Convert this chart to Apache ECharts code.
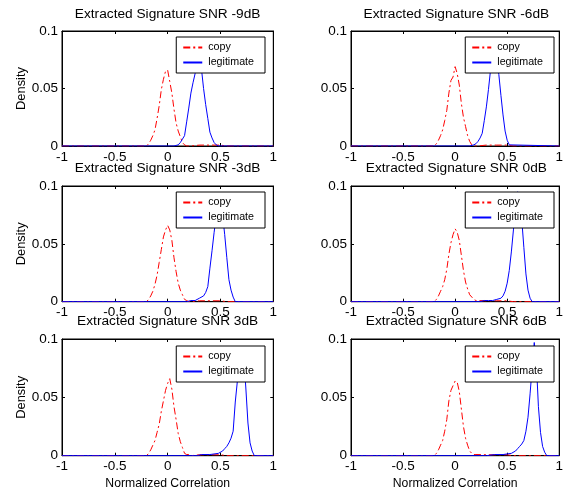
<!DOCTYPE html>
<html>
<head>
<meta charset="utf-8">
<script src="https://cdn.jsdelivr.net/npm/echarts@6/dist/echarts.min.js"></script>
<style>html,body{margin:0;padding:0;background:#fff}#c{width:566px;height:496px}</style>
</head>
<body>
<div id="c"></div>
<script>
// ---- data ----
const titles = ['Extracted Signature SNR -9dB','Extracted Signature SNR -6dB','Extracted Signature SNR -3dB','Extracted Signature SNR 0dB','Extracted Signature SNR 3dB','Extracted Signature SNR 6dB'];
const xTicks = [-1, -0.5, 0, 0.5, 1];
const yTicks = [0, 0.05, 0.1];

const copyX = [-1,-0.22,-0.2,-0.18,-0.16,-0.14,-0.12,-0.1,-0.08,-0.06,-0.04,-0.02,0,0.02,0.04,0.06,0.08,0.1,0.12,0.14,0.16,0.18,0.2,0.22,0.3,0.4,0.5,0.56,1];
const copyM9 = [0,0,0,0.002,0.005,0.009,0.014,0.024,0.035,0.049,0.058,0.065,0.066,0.056,0.046,0.032,0.020,0.013,0.008,0.003,0.001,0,0,0,0.0008,0.0008,0.0008,0,0];
const copyM6 = [0,0,0,0.002,0.005,0.009,0.014,0.022,0.031,0.046,0.057,0.060,0.069,0.063,0.053,0.037,0.025,0.017,0.009,0.004,0.001,0,0,0,0.0008,0.0008,0.0008,0,0];
const copyM3 = [0,0,0,0.002,0.005,0.009,0.015,0.023,0.034,0.045,0.056,0.062,0.066,0.062,0.053,0.038,0.026,0.016,0.010,0.006,0.002,0.001,0,0,0.0008,0.0008,0.0008,0,0];
const copyP0 = [0,0,0,0.002,0.005,0.009,0.013,0.019,0.028,0.041,0.051,0.058,0.063,0.060,0.053,0.040,0.027,0.017,0.011,0.006,0.004,0.002,0.001,0.001,0.0008,0.0008,0.0008,0,0];
const copyP3 = [0,0,0,0.002,0.005,0.009,0.013,0.020,0.027,0.038,0.047,0.056,0.062,0.066,0.057,0.042,0.031,0.019,0.012,0.007,0.002,0.001,0.001,0,0.0008,0.0008,0.0008,0,0];
const copyP6 = [0,0,0,0.002,0.005,0.009,0.013,0.021,0.031,0.047,0.056,0.060,0.064,0.063,0.055,0.040,0.025,0.015,0.009,0.004,0.002,0.001,0.001,0.001,0.0008,0.0008,0.0008,0,0];

const legitM9X = [-1,0.06,0.1,0.12,0.14,0.16,0.18,0.2,0.22,0.24,0.26,0.28,0.3,0.32,0.34,0.36,0.38,0.4,0.42,0.44,0.46,0.48,1];
const legitM9  = [0,0,0.001,0.003,0.006,0.009,0.021,0.033,0.046,0.055,0.063,0.075,0.078,0.067,0.050,0.036,0.024,0.012,0.007,0.003,0.001,0,0];
const legitM6X = [-1,0.14,0.18,0.2,0.22,0.24,0.26,0.28,0.3,0.32,0.34,0.36,0.38,0.4,0.42,0.44,0.46,0.48,0.5,0.52,1];
const legitM6  = [0,0,0.001,0.002,0.004,0.007,0.011,0.022,0.034,0.049,0.066,0.080,0.086,0.075,0.062,0.044,0.027,0.013,0.005,0.001,0];
const legitM3X = [-1,0.18,0.22,0.26,0.3,0.34,0.36,0.38,0.4,0.42,0.44,0.46,0.48,0.5,0.52,0.54,0.56,0.58,0.6,0.62,0.64,1];
const legitM3  = [0,0,0.001,0.001,0.003,0.005,0.008,0.013,0.029,0.044,0.060,0.074,0.087,0.090,0.075,0.058,0.038,0.019,0.010,0.004,0,0];
const legitP0X = [-1,0.24,0.28,0.32,0.36,0.4,0.44,0.46,0.48,0.5,0.52,0.54,0.56,0.58,0.6,0.62,0.64,0.66,0.68,0.7,0.72,0.74,1];
const legitP0  = [0,0,0.001,0.001,0.001,0.002,0.003,0.005,0.009,0.016,0.027,0.043,0.062,0.080,0.095,0.088,0.071,0.047,0.024,0.010,0.003,0,0];
const legitP3X = [-1,0.28,0.32,0.4,0.48,0.52,0.54,0.56,0.58,0.6,0.62,0.64,0.66,0.68,0.7,0.72,0.74,0.76,0.78,0.8,0.82,1];
const legitP3  = [0,0,0.001,0.001,0.002,0.004,0.006,0.008,0.011,0.015,0.021,0.046,0.064,0.083,0.092,0.085,0.058,0.028,0.011,0.004,0,0];
const legitP6X = [-1,0.3,0.38,0.46,0.54,0.58,0.6,0.62,0.64,0.66,0.68,0.7,0.72,0.74,0.76,0.78,0.8,0.82,0.84,0.86,0.88,1];
const legitP6  = [0,0,0.001,0.001,0.002,0.004,0.006,0.008,0.010,0.013,0.021,0.033,0.053,0.076,0.097,0.080,0.042,0.020,0.008,0.003,0,0];

const copyYs = [copyM9, copyM6, copyM3, copyP0, copyP3, copyP6];
const legitXs = [legitM9X, legitM6X, legitM3X, legitP0X, legitP3X, legitP6X];
const legitYs = [legitM9, legitM6, legitM3, legitP0, legitP3, legitP6];

// ---- layout ----
const FONT = '"Liberation Sans", Arial, sans-serif';
const colLeft = [62, 351];
const colW = [211.3, 210.7];
const rowTop = [31, 186, 339];
const rowH = [115, 115.7, 116.7];
const titleY = [14.5, 168.5, 321.5];
const legendTop = [37, 192, 346];

const zip = (xs, ys) => xs.map((x, i) => [x, ys[i]]);

const grid = [], xAxis = [], yAxis = [], series = [], legend = [], graphic = [];
for (let i = 0; i < 6; i++) {
  const r = Math.floor(i / 2), c = i % 2;
  grid.push({left: colLeft[c], top: rowTop[r], width: colW[c], height: rowH[r],
    show: true, borderColor: '#000', borderWidth: 1, backgroundColor: '#fff'});
  const axLine = {show: true, onZero: false, lineStyle: {color: '#000', width: 1}};
  const tick = {show: true, inside: true, length: 3, lineStyle: {color: '#000'}};
  xAxis.push({gridIndex: i, type: 'value', min: -1, max: 1, interval: 0.5, position: 'bottom',
    axisLine: axLine, axisTick: tick, splitLine: {show: false},
    axisLabel: {color: '#000', fontSize: 13.5, fontFamily: FONT, margin: 4,
      formatter: v => { const k = xTicks.find(t => Math.abs(t - v) < 1e-9); return k === undefined ? '' : String(k); }},
    name: r === 2 ? 'Normalized Correlation' : '', nameLocation: 'middle', nameGap: 22,
    nameTextStyle: {color: '#000', fontSize: 12.2, fontFamily: FONT}});
  xAxis.push({gridIndex: i, type: 'value', min: -1, max: 1, interval: 0.5, position: 'top',
    axisLine: axLine, axisTick: tick, splitLine: {show: false}, axisLabel: {show: false}});
  yAxis.push({gridIndex: i, type: 'value', min: 0, max: 0.1, interval: 0.05, position: 'left',
    axisLine: axLine, axisTick: tick, splitLine: {show: false},
    axisLabel: {color: '#000', fontSize: 13.5, fontFamily: FONT, margin: 4,
      formatter: v => { const k = yTicks.find(t => Math.abs(t - v) < 1e-9); return k === undefined ? '' : String(k); }},
    name: c === 0 ? 'Density' : '', nameLocation: 'middle', nameGap: 34, nameRotate: 90,
    nameTextStyle: {color: '#000', fontSize: 12.9, fontFamily: FONT}});
  yAxis.push({gridIndex: i, type: 'value', min: 0, max: 0.1, interval: 0.05, position: 'right',
    axisLine: axLine, axisTick: tick, splitLine: {show: false}, axisLabel: {show: false}});
  series.push({name: 'copy', type: 'line', xAxisIndex: 2 * i, yAxisIndex: 2 * i,
    data: zip(copyX, copyYs[i]), symbol: 'none', showSymbol: false, animation: false,
    lineStyle: {color: '#ff0000', width: 1, type: [7, 3, 2, 3]}, itemStyle: {color: '#ff0000'}});
  series.push({name: 'legitimate', type: 'line', xAxisIndex: 2 * i, yAxisIndex: 2 * i,
    data: zip(legitXs[i], legitYs[i]), symbol: 'none', showSymbol: false, animation: false,
    lineStyle: {color: '#0000ff', width: 1}, itemStyle: {color: '#0000ff'}});
  legend.push({data: ['copy', 'legitimate'], orient: 'vertical', align: 'left',
    right: c === 0 ? 301 : 12, top: legendTop[r],
    backgroundColor: '#fff', borderColor: '#000', borderWidth: 1, borderRadius: 0,
    padding: [5, 11, 5, 6], itemWidth: 19, itemHeight: 10, itemGap: 4,
    selectedMode: false, itemStyle: {opacity: 0},
    textStyle: {color: '#000', fontSize: 10.7, fontFamily: FONT, padding: [0, 0, 0, 1]}});
  graphic.push({type: 'text', x: colLeft[c] + colW[c] / 2, y: titleY[r], z: 100,
    style: {text: titles[i], fill: '#000', font: '13.7px ' + FONT, align: 'center', verticalAlign: 'middle'}});
}

const chart = echarts.init(document.getElementById('c'), null, {renderer: 'canvas'});
chart.setOption({animation: false, backgroundColor: '#fff', grid, xAxis, yAxis, series, legend, graphic});
</script>
</body>
</html>
